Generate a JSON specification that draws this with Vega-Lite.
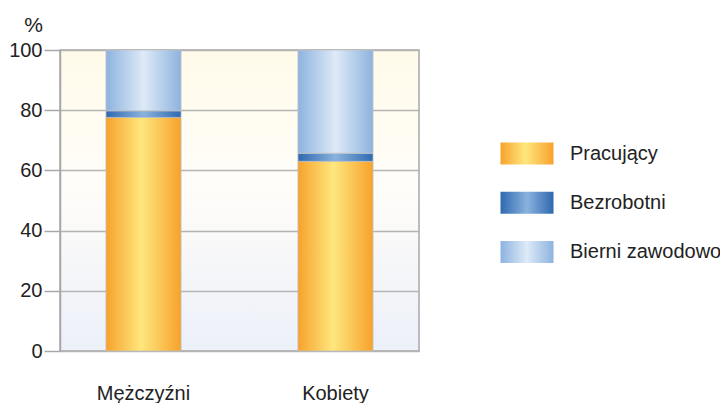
{
  "$schema": "https://vega.github.io/schema/vega-lite/v6.json",
  "width": 359,
  "height": 301,
  "autosize": "none",
  "padding": {"left": 60, "top": 50, "right": 301, "bottom": 52},
  "background": "white",
  "config": {
    "font": "Liberation Sans",
    "view": {
      "stroke": "#a8a8a8",
      "strokeWidth": 1.5,
      "fill": {"gradient": "linear", "x1": 0, "y1": 0, "x2": 0, "y2": 1, "stops": [{"offset": 0, "color": "#fffae9"}, {"offset": 0.45, "color": "#fffdf9"}, {"offset": 1, "color": "#ecf0f9"}]}
    }
  },
  "data": {
    "values": [
      {"plec": "Mężczyźni", "status": "Pracujący", "value": 77.6, "o": 1},
      {"plec": "Mężczyźni", "status": "Bezrobotni", "value": 2.2, "o": 2},
      {"plec": "Mężczyźni", "status": "Bierni zawodowo", "value": 20.2, "o": 3},
      {"plec": "Kobiety", "status": "Pracujący", "value": 63.0, "o": 1},
      {"plec": "Kobiety", "status": "Bezrobotni", "value": 2.7, "o": 2},
      {"plec": "Kobiety", "status": "Bierni zawodowo", "value": 34.3, "o": 3}
    ]
  },
  "mark": {
    "type": "bar", "stroke": "#c0c0c0", "strokeWidth": 0.8,
    "fill": {"expr": "(datum.status || datum.value) === 'Pracujący' ? {gradient:'linear',x1:0,y1:0,x2:1,y2:0,stops:[{offset:0,color:'#f7a22b'},{offset:0.47,color:'#fee77e'},{offset:1,color:'#f7a22b'}]} : (datum.status || datum.value) === 'Bezrobotni' ? {gradient:'linear',x1:0,y1:0,x2:1,y2:0,stops:[{offset:0,color:'#2f69b0'},{offset:0.5,color:'#8ab2de'},{offset:1,color:'#2f69b0'}]} : {gradient:'linear',x1:0,y1:0,x2:1,y2:0,stops:[{offset:0,color:'#8db3df'},{offset:0.5,color:'#deeaf7'},{offset:1,color:'#8db3df'}]}"}
  },
  "encoding": {
    "x": {
      "field": "plec", "type": "nominal", "sort": ["Mężczyźni", "Kobiety"],
      "scale": {"paddingInner": 0.609, "paddingOuter": 0.2395},
      "axis": {"title": null, "labelAngle": 0, "ticks": false, "domain": false, "labelFontSize": 20, "labelColor": "#222222", "labelBaseline": "alphabetic", "labelPadding": 48}
    },
    "y": {
      "field": "value", "type": "quantitative", "stack": "zero",
      "scale": {"domain": [0, 100], "nice": false},
      "axis": {
        "title": "%", "titleAngle": 0, "titleX": -27, "titleY": -19, "titleAlign": "center", "titleBaseline": "alphabetic",
        "titleFontSize": 21, "titleFontWeight": "normal", "titleColor": "#222222",
        "values": [0, 20, 40, 60, 80, 100], "tickSize": 16, "tickColor": "#a8a8a8", "tickWidth": 1.5,
        "gridColor": "#b4b4b4", "gridWidth": 1.5, "domainColor": "#a8a8a8", "domainWidth": 1.5,
        "labelFontSize": 20, "labelColor": "#222222", "labelPadding": 2
      }
    },
    "opacity": {
      "field": "status", "type": "nominal",
      "scale": {"domain": ["Pracujący", "Bezrobotni", "Bierni zawodowo"], "range": [1, 1, 1]},
      "legend": {
        "title": null, "orient": "none", "legendX": 440, "legendY": 76.5, "padding": 0,
        "symbolType": "M-1,-0.415L1,-0.415L1,0.415L-1,0.415Z", "symbolSize": 2809,
        "symbolStrokeWidth": 0.8, "symbolStrokeColor": "#c8c8c8",
        "labelFontSize": 20, "labelColor": "#222222", "labelOffset": 16, "labelLimit": 0, "rowPadding": 9.3
      }
    },
    "order": {"field": "o", "type": "quantitative"}
  }
}
